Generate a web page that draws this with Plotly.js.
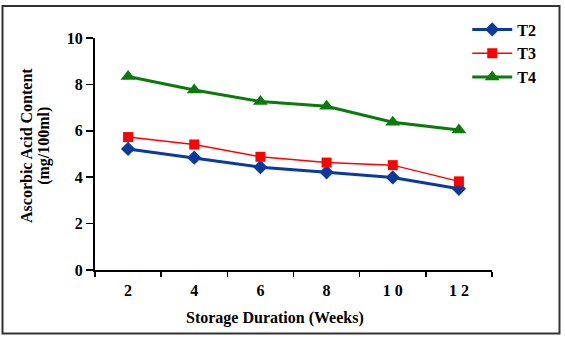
<!DOCTYPE html>
<html>
<head>
<meta charset="utf-8">
<script src="https://cdn.plot.ly/plotly-3.0.1.min.js"></script>
<style>
  html, body { margin: 0; padding: 0; background: #fff; }
  #chart { width: 565px; height: 340px; }
</style>
</head>
<body>
<div id="chart"></div>
<script>
// Storage duration (weeks) shown as category labels
const weeks = ['2', '4', '6', '8', '1 0', '1 2'];

// Ascorbic acid content (mg/100ml) per treatment
const t2 = [5.22, 4.84, 4.43, 4.21, 3.99, 3.50];
const t3 = [5.73, 5.41, 4.88, 4.63, 4.52, 3.82];
const t4 = [8.34, 7.76, 7.26, 7.06, 6.37, 6.03];

const seriesNames = ['T2', 'T3', 'T4'];

const font = { family: '"Liberation Serif", "Times New Roman", serif', color: '#000', weight: 'bold' };
const f = size => Object.assign({ size: size }, font);

const traces = [
  {
    x: weeks, y: t2, name: seriesNames[0], type: 'scatter', mode: 'lines+markers',
    line: { color: '#0b3a9e', width: 3 },
    marker: { symbol: 'diamond', size: 11, color: '#0b3a9e' }
  },
  {
    x: weeks, y: t3, name: seriesNames[1], type: 'scatter', mode: 'lines+markers',
    line: { color: '#ff0000', width: 1.5 },
    marker: { symbol: 'square', size: 10, color: '#ff0000' }
  },
  {
    x: weeks, y: t4, name: seriesNames[2], type: 'scatter', mode: 'lines+markers',
    line: { color: '#0a7a0a', width: 3 },
    marker: { symbol: 'triangle-up', size: 13, color: '#0a7a0a' }
  }
];

const layout = {
  width: 565, height: 340,
  margin: { l: 95, r: 73, t: 36, b: 70 },
  paper_bgcolor: '#fff', plot_bgcolor: '#fff',
  font: f(14),
  showlegend: true,
  legend: {
    x: 0.9376, y: 1.11, xanchor: 'left', yanchor: 'top',
    bgcolor: 'rgba(0,0,0,0)', borderwidth: 0,
    font: f(16),
    itemwidth: 40,
    tracegroupgap: 0
  },
  xaxis: {
    type: 'category',
    categoryorder: 'array', categoryarray: weeks,
    range: [-0.5, 5.5],
    tickson: 'boundaries',
    ticks: 'outside', ticklen: 5, tickwidth: 1.5, tickcolor: '#000',
    ticklabelstandoff: 5,
    showline: true, linecolor: '#000', linewidth: 2,
    showgrid: false, zeroline: false,
    tickfont: f(16)
  },
  yaxis: {
    range: [0, 10], dtick: 2, tick0: 0,
    ticks: 'outside', ticklen: 7, tickwidth: 1.5, tickcolor: '#000',
    showline: true, linecolor: '#000', linewidth: 2,
    showgrid: false, zeroline: false,
    tickfont: f(16)
  },
  annotations: [
    {
      text: 'Ascorbic Acid Content', xref: 'paper', yref: 'paper',
      x: -0.171, y: 0.535, xanchor: 'center', yanchor: 'middle',
      textangle: -90, showarrow: false, font: f(16)
    },
    {
      text: '(mg/100ml)', xref: 'paper', yref: 'paper',
      x: -0.1285, y: 0.535, xanchor: 'center', yanchor: 'middle',
      textangle: -90, showarrow: false, font: f(16)
    },
    {
      text: 'Storage Duration (Weeks)', xref: 'paper', yref: 'paper',
      x: 0.4534, y: -0.205, xanchor: 'center', yanchor: 'middle',
      showarrow: false, font: f(16)
    }
  ],
  shapes: [
    {
      type: 'rect', xref: 'paper', yref: 'paper',
      x0: -0.233, x1: 1.170, y0: -0.274, y1: 1.138,
      line: { color: '#333', width: 2 }
    }
  ]
};

Plotly.newPlot('chart', traces, layout, { displayModeBar: false, staticPlot: true });
</script>
</body>
</html>
